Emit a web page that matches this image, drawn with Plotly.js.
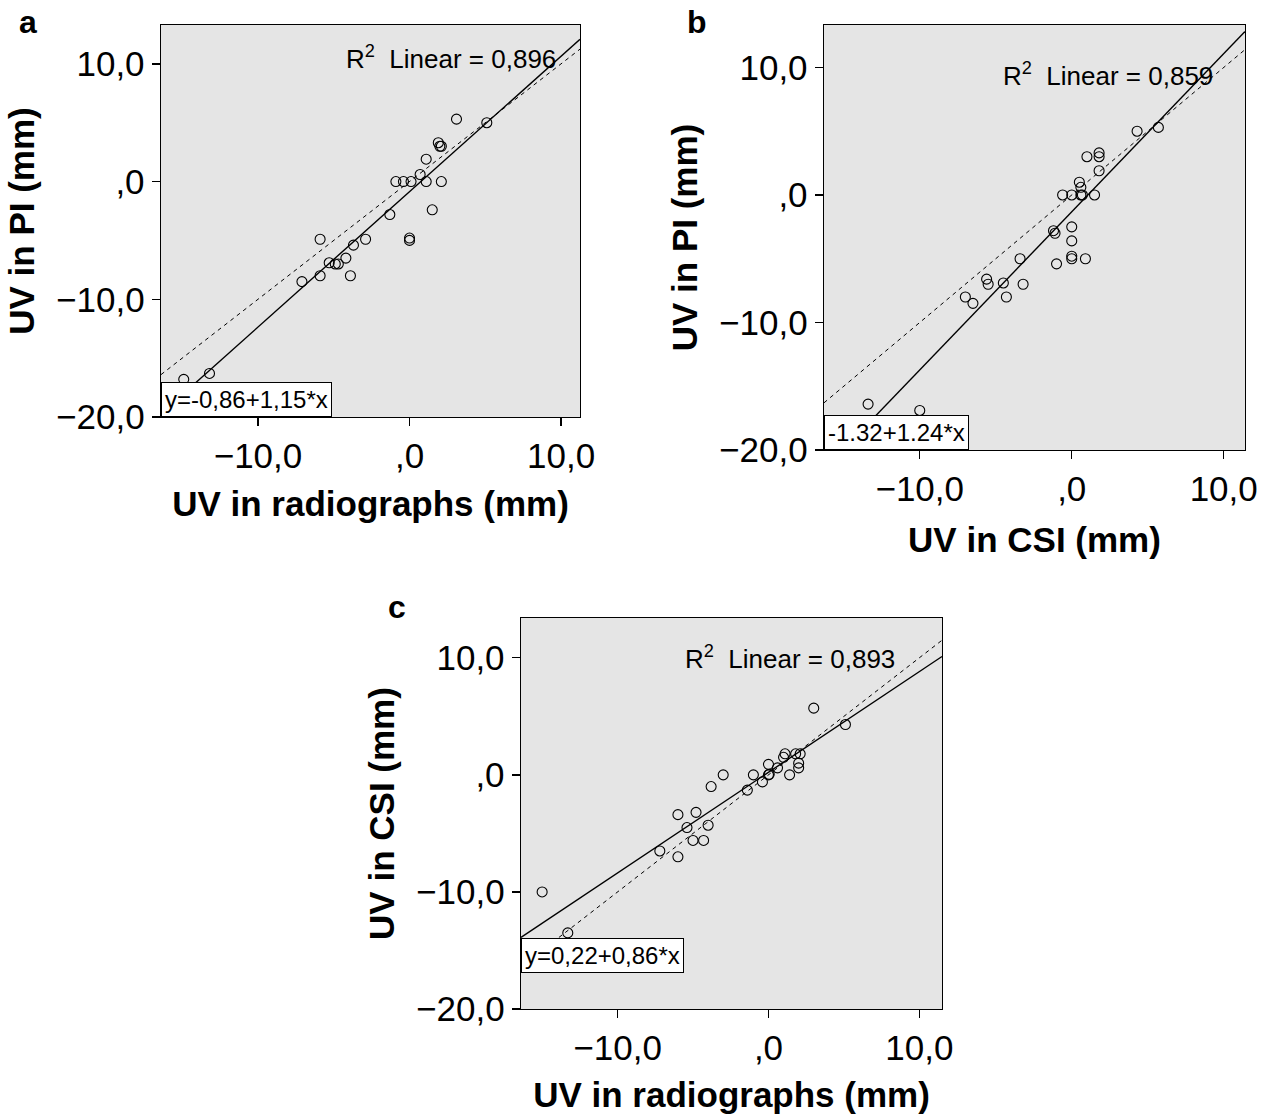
<!DOCTYPE html>
<html>
<head>
<meta charset="utf-8">
<script src="https://cdn.plot.ly/plotly-3.0.1.min.js"></script>
<style>html,body{margin:0;padding:0;background:#fff;}#chart{width:1267px;height:1114px;}</style>
</head>
<body>
<div id="chart"></div>
<script>
// ---------------- data ----------------
// Panel a: UV in radiographs (x) vs UV in PI (y)
const aX = [3.1, 5.1, 1.9, 2.1, 2.0, 1.1, 0.7, -0.9, -0.4, 0.1, 1.1, 2.1, 1.5, -1.3, 0.0, 0.0, -5.9, -2.9, -3.7, -5.3, -4.9, -4.7, -4.2, -5.9, -3.9, -7.1, -13.2, -14.9];
const aY = [5.3, 5.0, 3.3, 3.0, 3.0, 1.9, 0.6, 0.0, 0.0, 0.0, 0.0, 0.0, -2.4, -2.8, -4.8, -5.0, -4.9, -4.9, -5.4, -6.9, -7.0, -7.0, -6.5, -8.0, -8.0, -8.5, -16.3, -16.8];
// Panel b: UV in CSI (x) vs UV in PI (y)
const bX = [4.3, 5.7, 1.8, 1.8, 1.0, 1.8, 0.5, 0.6, -0.6, 0.0, 0.6, 0.7, 1.5, -1.2, -1.1, 0.0, 0.0, 0.0, 0.0, 0.9, -1.0, -3.4, -5.6, -5.5, -4.5, -3.2, -4.3, -7.0, -6.5, -13.4, -10.0];
const bY = [5.0, 5.3, 3.3, 3.0, 3.0, 1.9, 1.0, 0.6, 0.0, 0.0, 0.0, 0.0, 0.0, -2.8, -3.0, -2.5, -3.6, -4.8, -5.0, -5.0, -5.4, -5.0, -6.6, -7.0, -6.9, -7.0, -8.0, -8.0, -8.5, -16.4, -16.9];
// Panel c: UV in radiographs (x) vs UV in CSI (y)
const cX = [3.0, 5.1, 1.1, 1.0, 1.8, 2.1, 2.0, 2.0, 0.0, 0.6, 0.0, 0.05, 1.4, -1.0, -0.4, -1.4, -3.0, -3.8, -6.0, -4.8, -5.4, -4.0, -5.0, -4.3, -7.2, -6.0, -15.0, -13.3];
const cY = [5.7, 4.3, 1.8, 1.5, 1.8, 1.8, 1.0, 0.6, 0.9, 0.6, 0.0, 0.05, 0.0, 0.0, -0.6, -1.3, 0.0, -1.0, -3.4, -3.2, -4.5, -4.3, -5.6, -5.6, -6.5, -7.0, -10.0, -13.5];

// fit coefficients [intercept, slope]
const fitA = [-0.86, 1.15];
const fitB = [-1.32, 1.24];
const fitC = [0.22, 0.86];

const r2Labels = ['0,896', '0,859', '0,893'];
const eqLabels = ['y=-0,86+1,15*x', '-1.32+1.24*x', 'y=0,22+0,86*x'];
const panelLetters = ['a', 'b', 'c'];
const xTitles = ['UV in radiographs (mm)', 'UV in CSI (mm)', 'UV in radiographs (mm)'];
const yTitles = ['UV in PI (mm)', 'UV in PI (mm)', 'UV in CSI (mm)'];

const xTickVals = [-10, 0, 10];
const xTickText = ['\u221210,0', ',0', '10,0'];
const yTickVals = [-20, -10, 0, 10];
const yTickText = ['\u221220,0', '\u221210,0', ',0', '10,0'];

// ---------------- layout helpers ----------------
const W = 1267, H = 1114;
const FONT = 'Liberation Sans, Arial, Helvetica, sans-serif';
// pixel rectangles of the plot areas [left, right, top, bottom]
const rects = [[161, 580, 25, 417], [824, 1245, 25, 450], [521, 942, 618, 1009]];
const xRanges = [[-16.4, 11.25], [-16.3, 11.4], [-16.4, 11.5]];
const yRanges = [[-20, 13.3], [-20, 13.33], [-20, 13.4]];
const datasets = [[aX, aY, fitA], [bX, bY, fitB], [cX, cY, fitC]];
const xStandoff = [17, 20, 17];

const traces = [];
const layout = {
  width: W, height: H,
  margin: {l: 0, r: 0, t: 0, b: 0},
  paper_bgcolor: 'white',
  plot_bgcolor: '#e5e5e5',
  showlegend: false,
  font: {family: FONT, color: 'black'},
  annotations: []
};

datasets.forEach((ds, i) => {
  const n = i === 0 ? '' : String(i + 1);
  const xa = 'x' + n, ya = 'y' + n;
  const [X, Y, fit] = ds;
  const xr = xRanges[i];
  // identity line (dashed)
  traces.push({x: xr, y: xr.map(v => v), xaxis: xa, yaxis: ya, mode: 'lines',
    line: {color: 'black', width: 1, dash: '4px,4px'}, hoverinfo: 'skip'});
  // regression line (solid)
  traces.push({x: xr, y: xr.map(v => fit[0] + fit[1] * v), xaxis: xa, yaxis: ya, mode: 'lines',
    line: {color: 'black', width: 1.4}, hoverinfo: 'skip'});
  // points
  traces.push({x: X, y: Y, xaxis: xa, yaxis: ya, mode: 'markers',
    marker: {symbol: 'circle-open', size: 10, color: 'black', line: {width: 1.1, color: 'black'}}});

  const r = rects[i];
  const common = {
    showline: true, mirror: true, linecolor: 'black', linewidth: 1.4,
    showgrid: false, zeroline: false, ticks: 'outside', ticklen: 8, tickwidth: 1.4, tickcolor: 'black',
    tickfont: {family: FONT, size: 35, color: 'black'}, automargin: false, fixedrange: true
  };
  layout['xaxis' + n] = Object.assign({}, common, {
    domain: [r[0] / W, r[1] / W], range: xr, anchor: ya,
    tickvals: xTickVals, ticktext: xTickText,
    title: {text: '<b>' + xTitles[i] + '</b>', font: {family: FONT, size: 35, color: 'black'}, standoff: xStandoff[i]}
  });
  layout['yaxis' + n] = Object.assign({}, common, {
    domain: [1 - r[3] / H, 1 - r[2] / H], range: yRanges[i], anchor: xa,
    tickvals: yTickVals, ticktext: yTickText,
    title: {text: '<b>' + yTitles[i] + '</b>', font: {family: FONT, size: 35, color: 'black'}, standoff: 10}
  });

  // R^2 annotation
  const r2pos = [[0.947, 0.918], [0.929, 0.884], [0.893, 0.9]][i];
  layout.annotations.push({
    xref: xa + ' domain', yref: ya + ' domain', x: r2pos[0], y: r2pos[1],
    xanchor: 'right', yanchor: 'middle', showarrow: false,
    text: 'R<sup>2</sup>\u00a0 Linear = ' + r2Labels[i],
    font: {family: FONT, size: 26, color: 'black'}
  });
  // equation box
  const eqY = [0, 0, 0.092][i];
  layout.annotations.push({
    xref: xa + ' domain', yref: ya + ' domain', x: 0, y: eqY,
    xanchor: 'left', yanchor: 'bottom', showarrow: false,
    text: eqLabels[i], bgcolor: 'white', bordercolor: 'black', borderwidth: 1, borderpad: 3,
    font: {family: FONT, size: 24, color: 'black'}
  });
});

// panel letters
const letterPos = [[28, 22], [697, 22], [397, 607]];
panelLetters.forEach((t, i) => {
  layout.annotations.push({
    xref: 'paper', yref: 'paper', x: letterPos[i][0] / W, y: 1 - letterPos[i][1] / H,
    xanchor: 'center', yanchor: 'middle', showarrow: false,
    text: '<b>' + t + '</b>', font: {family: FONT, size: 32, color: 'black'}
  });
});

Plotly.newPlot('chart', traces, layout, {staticPlot: true, displayModeBar: false});
</script>
</body>
</html>
